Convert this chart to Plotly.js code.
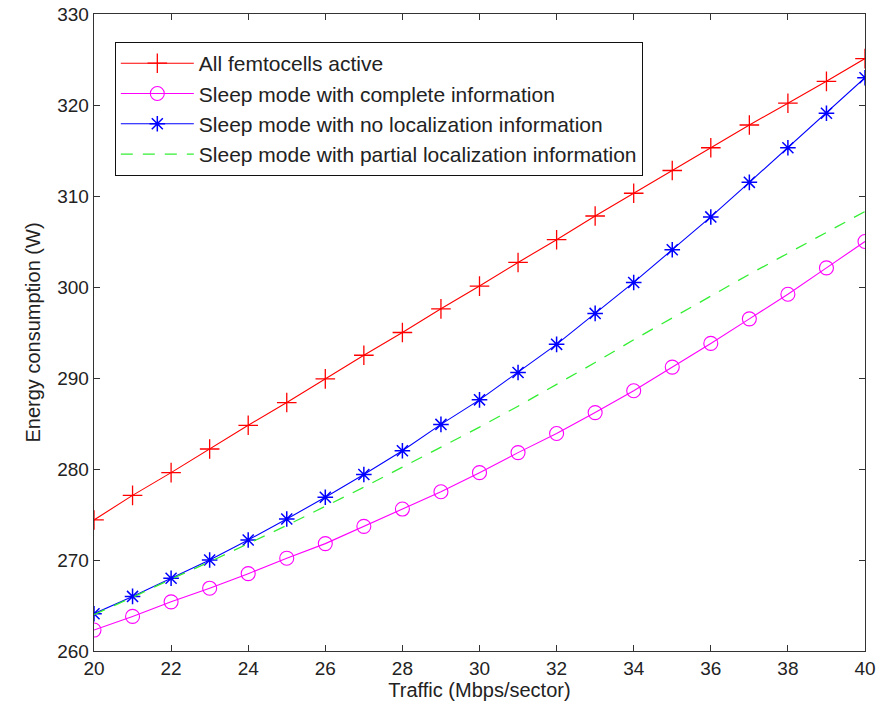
<!DOCTYPE html>
<html>
<head>
<meta charset="utf-8">
<script src="https://cdn.plot.ly/plotly-3.0.1.min.js"></script>
<style>html,body{margin:0;padding:0;background:#fff;}#chart{width:892px;height:704px;}</style>
</head>
<body>
<div id="chart"></div>
<script>
const traffic = [20,21,22,23,24,25,26,27,28,29,30,31,32,33,34,35,36,37,38,39,40];
const allActive = [274.4,277.1,279.6,282.2,284.8,287.3,289.9,292.5,295.0,297.6,300.1,302.7,305.2,307.8,310.3,312.8,315.3,317.8,320.2,322.6,325.1];
const sleepComplete = [262.3,263.8,265.4,266.9,268.5,270.2,271.8,273.7,275.6,277.5,279.6,281.8,283.9,286.2,288.6,291.2,293.8,296.5,299.2,302.1,305.0];
const sleepNoLoc = [264.1,266.0,268.0,270.0,272.2,274.5,276.9,279.4,282.0,284.9,287.6,290.6,293.7,297.1,300.5,304.1,307.7,311.5,315.3,319.1,323.0];
const sleepPartial = [264.0,265.9,267.9,269.8,271.8,273.8,275.9,278.0,280.2,282.4,284.6,286.9,289.3,291.7,294.2,296.6,299.0,301.4,303.7,306.0,308.3];
const names = ["All femtocells active","Sleep mode with complete information","Sleep mode with no localization information","Sleep mode with partial localization information"];
const xTicks = [20,22,24,26,28,30,32,34,36,38,40];
const yTicks = [260,270,280,290,300,310,320,330];

const traces = [
  {x: traffic, y: allActive, name: names[0], mode: 'lines+markers',
   line: {color: '#ff0000', width: 1.1},
   marker: {symbol: 'cross-thin-open', size: 14, line: {color: '#ff0000', width: 1.3}}},
  {x: traffic, y: sleepComplete, name: names[1], mode: 'lines+markers',
   line: {color: '#ff00ff', width: 1.1},
   marker: {symbol: 'circle-open', size: 14, color: '#ff00ff', line: {color: '#ff00ff', width: 1.1}}},
  {x: traffic, y: sleepNoLoc, name: names[2], mode: 'lines+markers',
   line: {color: '#0000ff', width: 1.1},
   marker: {symbol: 'asterisk-open', size: 13, line: {color: '#0000ff', width: 1.5}}},
  {x: traffic, y: sleepPartial, name: names[3], mode: 'lines',
   line: {color: '#33ee33', width: 1.3, dash: '12px,10px'}}
];

const fam = 'Liberation Sans, Arial, sans-serif';
const layout = {
  width: 892, height: 704,
  margin: {l: 94, r: 27, t: 14, b: 53},
  paper_bgcolor: '#fff', plot_bgcolor: '#fff',
  font: {family: fam, color: '#222', size: 19},
  showlegend: true,
  legend: {x: 0.027, y: 0.956, xanchor: 'left', yanchor: 'top',
    bgcolor: '#fff', bordercolor: '#111', borderwidth: 1,
    font: {family: fam, size: 21, color: '#222'}, itemwidth: 73, tracegroupgap: 0},
  xaxis: {range: [20, 40], tickvals: xTicks, ticktext: xTicks.map(String),
    showgrid: false, zeroline: false, showline: true, linecolor: '#333', linewidth: 1.3,
    mirror: 'ticks', ticks: 'inside', ticklen: 6, tickcolor: '#333',
    tickfont: {family: fam, size: 19}, title: {text: 'Traffic (Mbps/sector)', font: {family: fam, size: 20}, standoff: 1}},
  yaxis: {range: [260, 330], tickvals: yTicks, ticktext: yTicks.map(String),
    showgrid: false, zeroline: false, showline: true, linecolor: '#333', linewidth: 1.3,
    mirror: 'ticks', ticks: 'inside', ticklen: 6, tickcolor: '#333',
    tickfont: {family: fam, size: 19}, title: {text: 'Energy consumption (W)', font: {family: fam, size: 20}, standoff: 11}}
};
Plotly.newPlot('chart', traces, layout, {displayModeBar: false, staticPlot: true});
</script>
</body>
</html>
